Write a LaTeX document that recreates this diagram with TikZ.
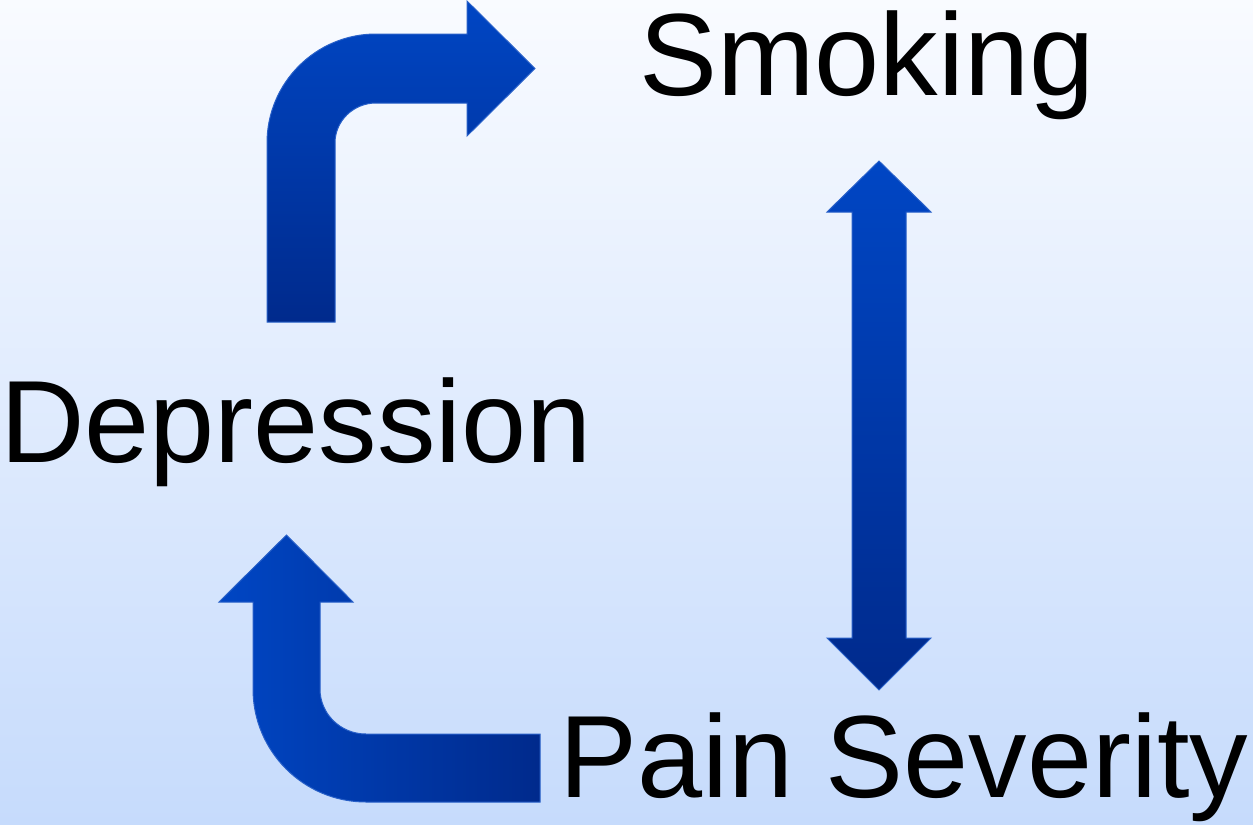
\documentclass[tikz,border=0pt]{standalone}
\usepackage{fontspec}
\setmainfont{Liberation Sans}
\definecolor{bgtop}{RGB}{249,251,255}
\definecolor{bgbot}{RGB}{198,219,252}
\definecolor{arrowlight}{RGB}{0,70,196}
\definecolor{arrowdark}{RGB}{0,42,140}
\definecolor{arrowedge}{RGB}{40,96,200}
\begin{document}
\begin{tikzpicture}[x=1bp,y=-1bp,
  label/.style={anchor=base west,inner sep=0pt,font=\fontsize{117bp}{130bp}\selectfont,text=black},
  blockarrow/.style={draw=arrowedge,line width=1bp,line join=miter}]
% page and soft blue background
\useasboundingbox (0,0) rectangle (1253,825);
\shade[top color=bgtop,bottom color=bgbot] (0,0) rectangle (1253,825);

% labels
\node[label] (smoking)    at (639,95)  {Smoking};
\node[label] (depression) at (0,462)   {Depression};
\node[label] (pain)       at (559,797) {Pain Severity};

% bent arrow: Depression -> Smoking
\shade[blockarrow,top color=arrowlight,bottom color=arrowdark]
  (267,322) -- (267,143)
  .. controls (267,82.8) and (315.8,34) .. (376,34)
  -- (467,34) -- (467,1) -- (535,68.5) -- (467,136) -- (467,103)
  -- (376,103)
  .. controls (353.4,103) and (335,120.9) .. (335,143)
  -- (335,322) -- cycle;

% double arrow: Smoking <-> Pain Severity
\shade[blockarrow,top color=arrowlight,bottom color=arrowdark]
  (879,161) -- (931,212) -- (906,212) -- (906,638) -- (931,638)
  -- (879,690) -- (827,638) -- (852,638) -- (852,212) -- (827,212) -- cycle;

% bent arrow: Pain Severity -> Depression
\shade[blockarrow,left color=arrowlight,right color=arrowdark]
  (253,602) -- (253,689)
  .. controls (253,751.4) and (303.6,802) .. (366,802)
  -- (540,802) -- (540,734) -- (366,734)
  .. controls (340.6,734) and (320,713.9) .. (320,689)
  -- (320,602) -- (353,602) -- (286.5,535) -- (219,602) -- cycle;
\end{tikzpicture}
\end{document}
